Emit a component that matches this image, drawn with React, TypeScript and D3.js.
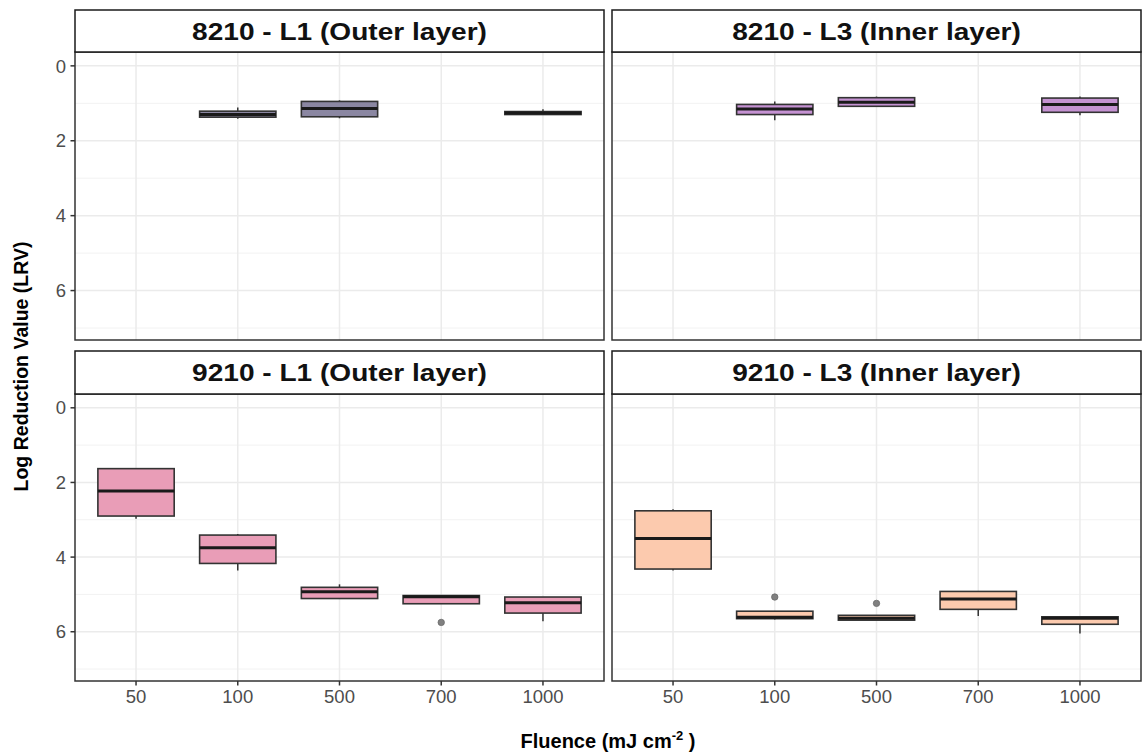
import React from "react";
import * as d3 from "d3";

// ---------- data ----------
const categories = ["50", "100", "500", "700", "1000"];
const panelTitles = [
  "8210 - L1 (Outer layer)",
  "8210 - L3 (Inner layer)",
  "9210 - L1 (Outer layer)",
  "9210 - L3 (Inner layer)",
];
const yTicks = [0, 2, 4, 6];
const yMinor = [1, 3, 5, 7];

// [category, lowerWhisker, q1, median, q3, upperWhisker]  (LRV)
const stats8210L1: [string, number, number, number, number, number][] = [
  ["100", 1.11, 1.21, 1.3, 1.37, 1.41],
  ["500", 0.92, 0.95, 1.14, 1.36, 1.4],
  ["1000", 1.16, 1.22, 1.26, 1.3, 1.3],
];
const stats8210L3: [string, number, number, number, number, number][] = [
  ["100", 0.95, 1.03, 1.15, 1.3, 1.45],
  ["500", 0.82, 0.85, 0.97, 1.08, 1.08],
  ["1000", 0.82, 0.86, 1.03, 1.24, 1.32],
];
const stats9210L1: [string, number, number, number, number, number][] = [
  ["50", 1.61, 1.63, 2.23, 2.9, 2.97],
  ["100", 3.38, 3.41, 3.75, 4.17, 4.36],
  ["500", 4.73, 4.81, 4.93, 5.11, 5.11],
  ["700", 5.03, 5.03, 5.06, 5.25, 5.25],
  ["1000", 5.07, 5.07, 5.22, 5.5, 5.72],
];
const stats9210L3: [string, number, number, number, number, number][] = [
  ["50", 2.72, 2.76, 3.5, 4.32, 4.36],
  ["100", 5.45, 5.45, 5.61, 5.65, 5.67],
  ["500", 5.56, 5.56, 5.64, 5.69, 5.69],
  ["700", 4.92, 4.92, 5.12, 5.4, 5.58],
  ["1000", 5.6, 5.6, 5.64, 5.8, 6.05],
];
const outliers8210L1: [string, number][] = [];
const outliers8210L3: [string, number][] = [];
const outliers9210L1: [string, number][] = [["700", 5.75]];
const outliers9210L3: [string, number][] = [
  ["100", 5.07],
  ["500", 5.24],
];

// ---------- styling / layout ----------
const W = 1146;
const H = 752;
const FONT = "'Liberation Sans', Arial, Helvetica, sans-serif";
const fills = ["#8b87a2", "#c592d2", "#e99db7", "#fccaae"];
const cols = [
  [75, 604],
  [612, 1141],
];
const rows = [
  { stripTop: 10, top: 52, bottom: 340 },
  { stripTop: 351, top: 394, bottom: 681 },
];
const yDomain = [-0.37, 7.32];

const panelStats = [stats8210L1, stats8210L3, stats9210L1, stats9210L3];
const panelOutliers = [outliers8210L1, outliers8210L3, outliers9210L1, outliers9210L3];

function Panel({ idx }: { idx: number }) {
  const r = Math.floor(idx / 2);
  const c = idx % 2;
  const [x0, x1] = cols[c];
  const { stripTop, top, bottom } = rows[r];
  const x = d3.scalePoint<string>().domain(categories).range([x0, x1]).padding(0.6);
  const y = d3.scaleLinear().domain(yDomain).range([top, bottom]);
  const bw = x.step() * 0.75;
  const showY = c === 0;
  const showX = r === 1;
  const cxm = (x0 + x1) / 2;
  return (
    <g>
      {/* grid */}
      {yMinor.map((v) => (
        <line key={"mn" + v} x1={x0} x2={x1} y1={y(v)} y2={y(v)} stroke="#f2f2f2" strokeWidth={1} />
      ))}
      {yTicks.map((v) => (
        <line key={"mj" + v} x1={x0} x2={x1} y1={y(v)} y2={y(v)} stroke="#ebebeb" strokeWidth={1.5} />
      ))}
      {categories.map((cat) => (
        <line key={"vx" + cat} x1={x(cat)} x2={x(cat)} y1={top} y2={bottom} stroke="#ebebeb" strokeWidth={1.5} />
      ))}
      {/* boxes */}
      {panelStats[idx].map(([cat, lo, q1, med, q3, hi]) => {
        const cx = x(cat) as number;
        return (
          <g key={"b" + cat}>
            <line x1={cx} x2={cx} y1={y(lo)} y2={y(q1)} stroke="#333" strokeWidth={1.5} />
            <line x1={cx} x2={cx} y1={y(q3)} y2={y(hi)} stroke="#333" strokeWidth={1.5} />
            <rect
              x={cx - bw / 2}
              y={y(q1)}
              width={bw}
              height={Math.max(0.5, y(q3) - y(q1))}
              fill={fills[idx]}
              stroke="#333"
              strokeWidth={1.6}
            />
            <line x1={cx - bw / 2} x2={cx + bw / 2} y1={y(med)} y2={y(med)} stroke="#1a1a1a" strokeWidth={3} />
          </g>
        );
      })}
      {panelOutliers[idx].map(([cat, v], i) => (
        <circle key={"o" + i} cx={x(cat)} cy={y(v)} r={3.2} fill="#808080" stroke="#6a6a6a" strokeWidth={0.8} />
      ))}
      {/* panel border */}
      <rect x={x0} y={top} width={x1 - x0} height={bottom - top} fill="none" stroke="#333" strokeWidth={1.5} />
      {/* strip */}
      <rect x={x0} y={stripTop} width={x1 - x0} height={top - stripTop} fill="#ffffff" stroke="#1a1a1a" strokeWidth={1.5} />
      <text
        x={cxm}
        y={(stripTop + top) / 2}
        dy="0.36em"
        textAnchor="middle"
        fontFamily={FONT}
        fontWeight="bold"
        fontSize={24}
        fill="#111"
        transform={`translate(${cxm},0) scale(1.17,1) translate(${-cxm},0)`}
      >
        {panelTitles[idx]}
      </text>
      {/* y axis */}
      {showY &&
        yTicks.map((v) => (
          <g key={"yt" + v}>
            <line x1={x0 - 4.5} x2={x0} y1={y(v)} y2={y(v)} stroke="#333" strokeWidth={1.5} />
            <text x={x0 - 9} y={y(v)} dy="0.36em" textAnchor="end" fontFamily={FONT} fontSize={18.5} fill="#4d4d4d">
              {v}
            </text>
          </g>
        ))}
      {/* x axis */}
      {showX &&
        categories.map((cat) => (
          <g key={"xt" + cat}>
            <line x1={x(cat)} x2={x(cat)} y1={bottom} y2={bottom + 4.5} stroke="#333" strokeWidth={1.5} />
            <text x={x(cat)} y={bottom + 22} textAnchor="middle" fontFamily={FONT} fontSize={18.5} fill="#4d4d4d">
              {cat}
            </text>
          </g>
        ))}
    </g>
  );
}

export default function App() {
  const midX = (cols[0][0] + cols[1][1]) / 2;
  const midY = (rows[0].top + rows[1].bottom) / 2;
  return (
    <svg
      width={W}
      height={H}
      viewBox={`0 0 ${W} ${H}`}
      style={{ position: "absolute", left: 0, top: 0, background: "#fff" }}
    >
      <rect x={0} y={0} width={W} height={H} fill="#fff" />
      {[0, 1, 2, 3].map((i) => (
        <Panel key={i} idx={i} />
      ))}
      <text x={midX} y={748} textAnchor="middle" fontFamily={FONT} fontWeight="bold" fontSize={20} fill="#000">
        Fluence (mJ cm
        <tspan dy={-8} fontSize={13}>-2</tspan>
        <tspan dy={8}> )</tspan>
      </text>
      <text
        transform={`translate(28,${midY}) rotate(-90)`}
        textAnchor="middle"
        fontFamily={FONT}
        fontWeight="bold"
        fontSize={19.5}
        fill="#000"
      >
        Log Reduction Value (LRV)
      </text>
    </svg>
  );
}
